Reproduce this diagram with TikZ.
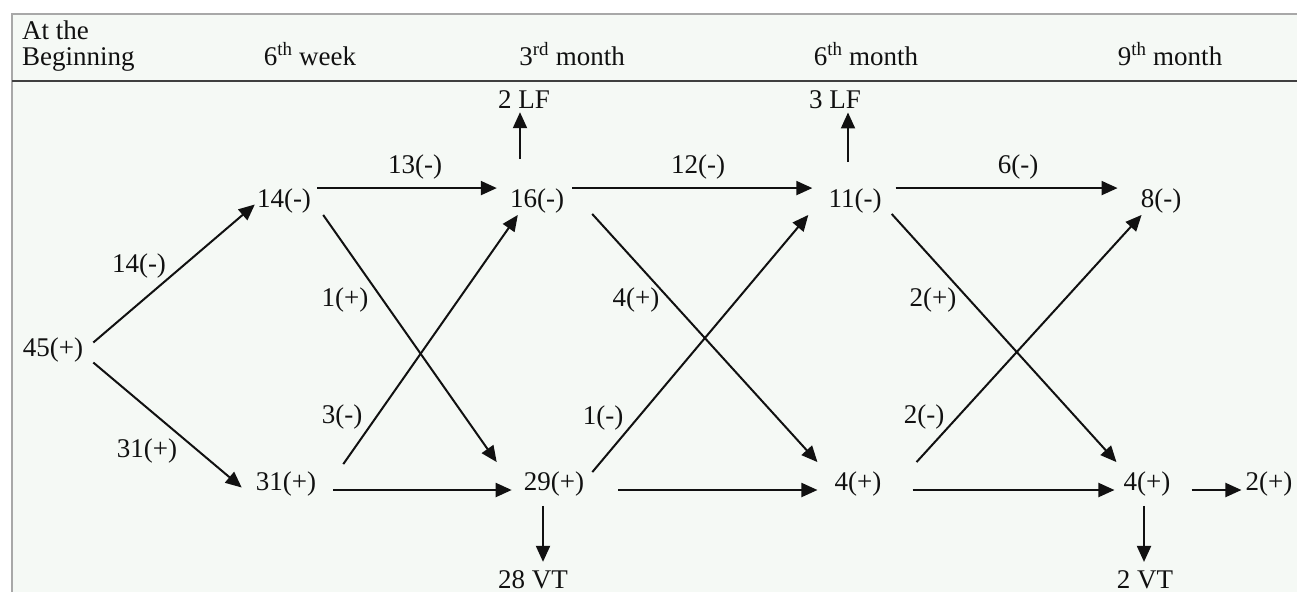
\documentclass[tikz,border=0pt]{standalone}
\usepackage{fontspec}
\setmainfont{Liberation Serif}
\usetikzlibrary{arrows.meta}
\definecolor{paper}{HTML}{F5F9F5}
\definecolor{rule}{HTML}{A8A8A8}
\definecolor{ink}{HTML}{111111}
\begin{document}
\begin{tikzpicture}[x=1pt, y=-1pt,
  every node/.style={font=\fontsize{27}{26}\selectfont, text=ink, inner sep=0pt},
  st/.style={anchor=base},
  arr/.style={draw=ink, line width=2pt, -{Triangle[length=16pt, width=14pt]}}]
  \useasboundingbox (0,0) rectangle (1297,592);
  \fill[white] (0,0) rectangle (1297,592);
  \fill[paper] (12,14) rectangle (1297,592);
  \draw[rule, line width=1.2pt] (12,592) -- (12,14) -- (1297,14);
  \draw[black!75, line width=1.8pt] (12,81) -- (1297,81);
  % header
  \node[anchor=north west, align=left] (hbeg) at (22,21) {At the\\Beginning};
  \node[st] (hwk) at (310,65) {6\textsuperscript{th} week};
  \node[st] (hm3) at (572,65) {3\textsuperscript{rd} month};
  \node[st] (hm6) at (866,65) {6\textsuperscript{th} month};
  \node[st] (hm9) at (1170,65) {9\textsuperscript{th} month};
  % groups
  \node[st] (n45) at (53,356) {45(+)};
  \node[st] (n14) at (284,207) {14(-)};
  \node[st] (n16) at (537,207) {16(-)};
  \node[st] (n11) at (855,207) {11(-)};
  \node[st] (n8) at (1161,207) {8(-)};
  \node[st] (n31) at (286,490) {31(+)};
  \node[st] (n29) at (554,490) {29(+)};
  \node[st] (n4m) at (858,490) {4(+)};
  \node[st] (n4r) at (1147,490) {4(+)};
  \node[st] (n2p) at (1269,490) {2(+)};
  \node[st] (lf2) at (524,108) {2 LF};
  \node[st] (lf3) at (835,108) {3 LF};
  \node[st] (vt28) at (533,588) {28 VT};
  \node[st] (vt2) at (1145,588) {2 VT};
  % flow labels
  \node (e14) at (139,266) {14(-)};
  \node (e31) at (147,451) {31(+)};
  \node (e13) at (415,167) {13(-)};
  \node (e1p) at (345,300) {1(+)};
  \node (e3m) at (342,417) {3(-)};
  \node (e12) at (698,167) {12(-)};
  \node (e4p) at (636,300) {4(+)};
  \node (e1m) at (603,418) {1(-)};
  \node (e6) at (1018,167) {6(-)};
  \node (e2p) at (933,300) {2(+)};
  \node (e2m) at (924,417) {2(-)};
  % straight on
  \draw[arr, shorten <=6pt, shorten >=13pt] (n14.north east) -- (n16.north west);
  \draw[arr, shorten <=8pt, shorten >=16pt] (n16.north east) -- (n11.north west);
  \draw[arr, shorten <=14pt, shorten >=23pt] (n11.north east) -- (n8.north west);
  \draw[arr, shorten <=17pt, shorten >=12pt] (n31.base east) -- (n29.base west);
  \draw[arr, shorten <=34pt, shorten >=17pt] (n29.base east) -- (n4m.base west);
  \draw[arr, shorten <=31pt, shorten >=9pt] (n4m.base east) -- (n4r.base west);
  \draw[arr, shorten <=21pt, shorten >=4pt] (n4r.base east) -- (n2p.base west);
  % crossings
  \draw[arr] ([shift={(10,-7)}]n45.east) -- ([shift={(-2,4)}]n14.west);
  \draw[arr] ([shift={(10,13)}]n45.east) -- ([shift={(-14,4)}]n31.west);
  \draw[arr] ([shift={(12,2)}]n14.south east) -- ([shift={(-27,-9)}]n29.north west);
  \draw[arr] ([shift={(27,-7)}]n31.north east) -- ([shift={(8,2)}]n16.south west);
  \draw[arr] ([shift={(28,1)}]n16.south east) -- ([shift={(-17,-9)}]n4m.north west);
  \draw[arr] ([shift={(8,1)}]n29.north east) -- ([shift={(-20,2)}]n11.south west);
  \draw[arr] ([shift={(10,1)}]n11.south east) -- ([shift={(-7,-9)}]n4r.north west);
  \draw[arr] ([shift={(35,-9)}]n4m.north east) -- ([shift={(1,2)}]n8.south west);
  % out of the study
  \draw[arr, shorten <=29pt, shorten >=4pt] ([xshift=-17pt]n16.north) -- ([xshift=-4pt]lf2.south);
  \draw[arr, shorten <=26pt, shorten >=4pt] ([xshift=-7pt]n11.north) -- ([xshift=13pt]lf3.south);
  \draw[arr, shorten <=10pt, shorten >=8pt] ([xshift=-11pt]n29.south) -- ([xshift=10pt]vt28.north);
  \draw[arr, shorten <=10pt, shorten >=8pt] ([xshift=-3pt]n4r.south) -- ([xshift=-1pt]vt2.north);
\end{tikzpicture}
\end{document}
